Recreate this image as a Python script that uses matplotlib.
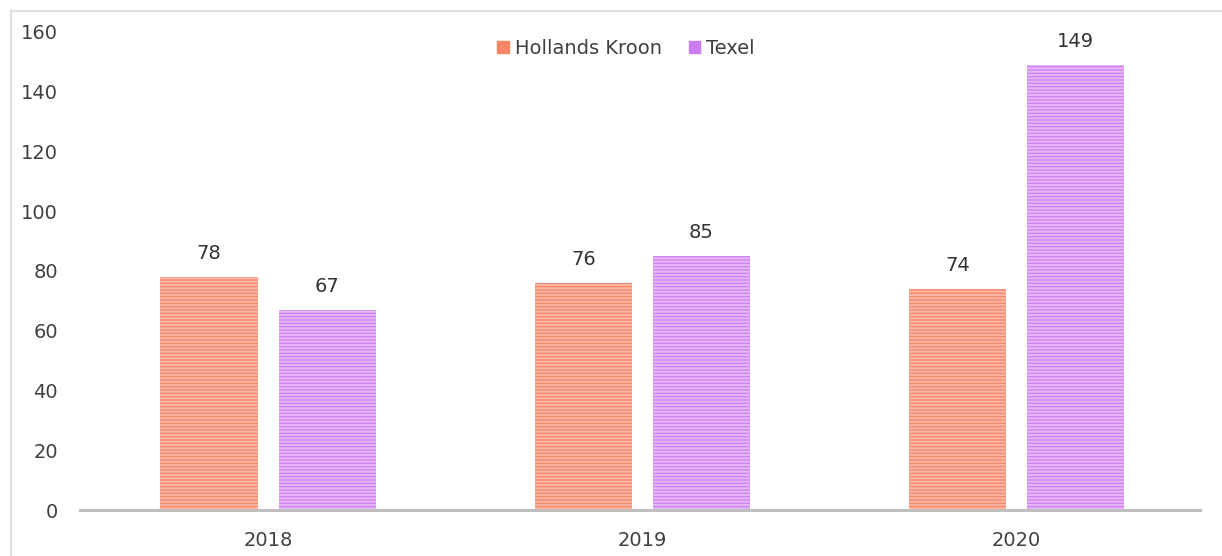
"""Grouped bar chart: Hollands Kroon vs Texel, 2018-2020."""

import matplotlib

matplotlib.use("Agg")
import matplotlib.pyplot as plt
import numpy as np
from matplotlib.lines import Line2D

years = ["2018", "2019", "2020"]
series_names = ["Hollands Kroon", "Texel"]
hollands_kroon = [78, 76, 74]
texel = [67, 85, 149]
y_ticks = [0, 20, 40, 60, 80, 100, 120, 140, 160]

plt.rcParams["font.family"] = ["DejaVu Sans"]
plt.rcParams["hatch.linewidth"] = 1.4

TEXT = "#404040"
fills = ["#F58C70", "#D184F3"]
stripes = ["#FBB5A2", "#E6B7F9"]
legend_colors = ["#F48565", "#CB7CF0"]


def main() -> None:
    fig = plt.figure(figsize=(12.22, 5.56), dpi=100)
    ax = fig.add_axes([80 / 1222, 1 - 510 / 556, 1120 / 1222, 478 / 556])

    x = np.arange(len(years))
    width = 0.26
    offset = 0.158
    for idx, (name, vals) in enumerate(zip(series_names, [hollands_kroon, texel])):
        pos = x + (offset if idx else -offset)
        bars = ax.bar(pos, vals, width=width, color=fills[idx], edgecolor=stripes[idx],
                      linewidth=0, hatch="-----", label=name, zorder=2)
        for b, v in zip(bars, vals):
            ax.annotate(str(v), (b.get_x() + b.get_width() / 2, v), xytext=(0, 10),
                        textcoords="offset points", ha="center", va="bottom",
                        fontsize=14, color="#333333")

    ax.set_xlim(-0.503, 2.49)
    ax.set_ylim(0, 160)
    ax.set_yticks(y_ticks)
    ax.set_xticks(x)
    ax.set_xticklabels(years)
    ax.tick_params(axis="both", length=0, labelsize=14, labelcolor=TEXT)
    ax.tick_params(axis="y", pad=16)
    ax.tick_params(axis="x", pad=15)
    for side in ["top", "right", "left"]:
        ax.spines[side].set_visible(False)
    ax.spines["bottom"].set_color("#BFBFBF")
    ax.spines["bottom"].set_linewidth(2.2)
    ax.spines["bottom"].set_zorder(3)

    handles = [plt.Rectangle((0, 0), 1, 1, color=legend_colors[i]) for i in range(2)]
    ax.legend(handles, series_names, loc="center", bbox_to_anchor=(0.4875, 0.966),
              ncol=2, frameon=False, fontsize=14, handlelength=0.6, handleheight=0.6,
              handletextpad=0.3, columnspacing=1.4, labelcolor=TEXT)

    # light frame lines along top and left edge
    fig.add_artist(Line2D([11 / 1222, 1], [1 - 11 / 556] * 2, transform=fig.transFigure,
                          color="#D9D9D9", linewidth=1.2))
    fig.add_artist(Line2D([11 / 1222] * 2, [0, 1 - 11 / 556], transform=fig.transFigure,
                          color="#D9D9D9", linewidth=1.2))

    fig.savefig("out.png", dpi=100)
    plt.close(fig)


if __name__ == "__main__":
    main()
